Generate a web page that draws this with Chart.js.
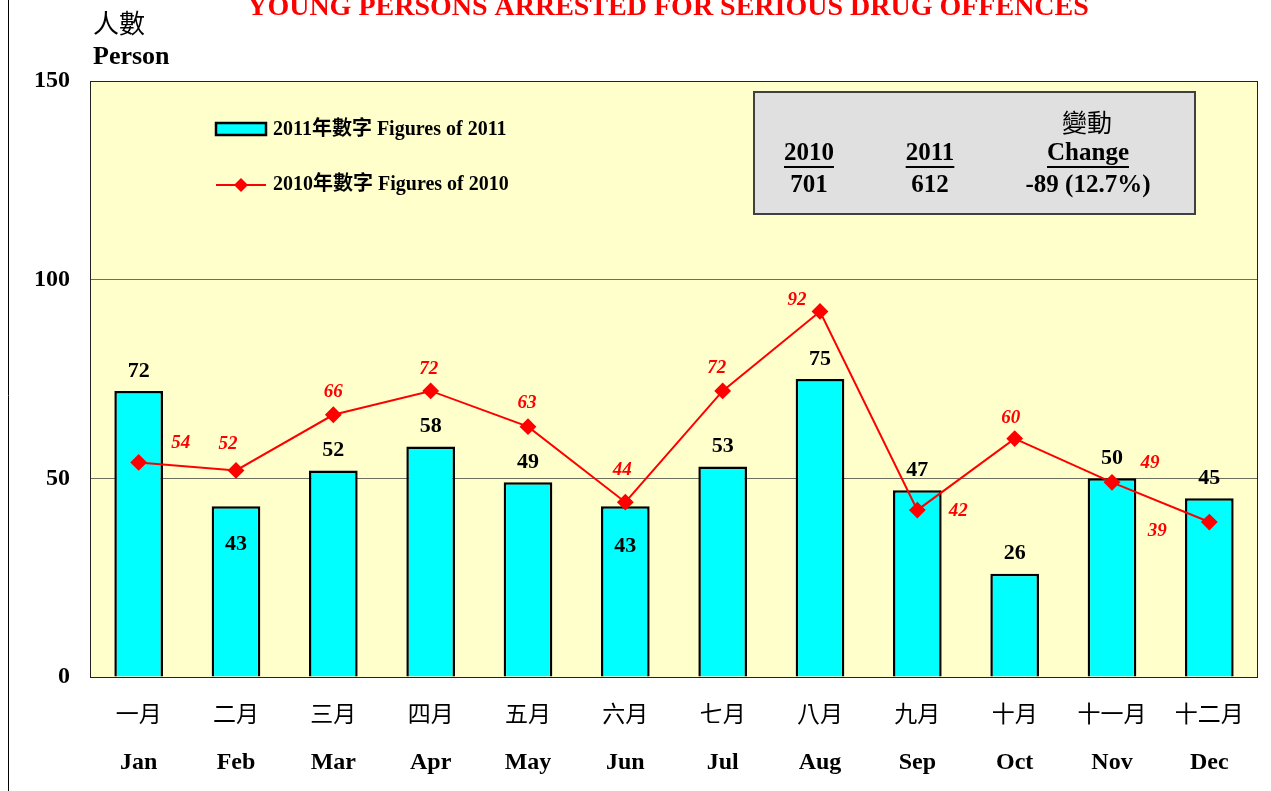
<!DOCTYPE html>
<html>
<head>
<meta charset="utf-8">
<script src="https://cdn.jsdelivr.net/npm/chart.js@4.4.1/dist/chart.umd.min.js"></script>
<style>
  html, body { margin: 0; padding: 0; background: #fff; }
  #wrap { width: 1271px; height: 791px; }
</style>
</head>
<body>
<div id="wrap"><canvas id="drugChart" width="1271" height="791"></canvas></div>
<script>
// データ
const monthsEn = ['Jan', 'Feb', 'Mar', 'Apr', 'May', 'Jun', 'Jul', 'Aug', 'Sep', 'Oct', 'Nov', 'Dec'];
const monthsZh = ['一月', '二月', '三月', '四月', '五月', '六月', '七月', '八月', '九月', '十月', '十一月', '十二月'];
const figures2011 = [72, 43, 52, 58, 49, 43, 53, 75, 47, 26, 50, 45];
const figures2010 = [54, 52, 66, 72, 63, 44, 72, 92, 42, 60, 49, 39];
const yTicks = [0, 50, 100, 150];
const summaryHeads = ['2010', '2011', 'Change'];
const summaryValues = ['701', '612', '-89 (12.7%)'];

const titleText = 'YOUNG PERSONS ARRESTED FOR SERIOUS DRUG OFFENCES';
const legend2011 = '2011年數字 Figures of 2011';
const legend2010 = '2010年數字 Figures of 2010';

// ラベル位置の調整 (バー上端からのずれ / 点からのずれ)
const barLabelDy = [-20, 38, -20, -20, -20, 40, -20, -20, -20, -20, -20, -20];
const lineLabelOffset = [
    [42, -19], [-8, -26], [0, -23], [-2, -22], [-1, -24], [-3, -32],
    [-6, -23], [-23, -11], [41, 1], [-4, -21], [38, -19], [-52, 9]
];

const SERIF = '"Liberation Serif", "Times New Roman", serif';
const CJK = '"Noto Sans CJK TC", "Noto Sans CJK SC", sans-serif';

function mixedFont(bold, size) {
    return (bold ? 'bold ' : '') + size + 'px ' + SERIF + ', ' + CJK;
}

// 背景と枠
const backgroundPlugin = {
    id: 'background',
    beforeDraw(chart) {
        const { ctx, chartArea: a } = chart;
        ctx.save();
        ctx.fillStyle = '#ffffff';
        ctx.fillRect(0, 0, chart.width, chart.height);
        ctx.fillStyle = '#FFFFCC';
        ctx.fillRect(a.left, a.top, a.right - a.left, a.bottom - a.top);
        ctx.strokeStyle = '#000';
        ctx.lineWidth = 1;
        ctx.beginPath();
        ctx.moveTo(8.5, 0);
        ctx.lineTo(8.5, chart.height);
        ctx.stroke();
        ctx.restore();
    },
    beforeDatasetsDraw(chart) {
        const { ctx, chartArea: a } = chart;
        ctx.save();
        ctx.strokeStyle = '#222';
        ctx.lineWidth = 1;
        ctx.strokeRect(a.left + 0.5, a.top + 0.5, a.right - a.left - 1, a.bottom - a.top);
        ctx.restore();
    }
};

// テキスト類
const annotationPlugin = {
    id: 'annotations',
    afterDraw(chart) {
        const { ctx } = chart;
        const xScale = chart.scales.x;
        ctx.save();

        // タイトル
        ctx.fillStyle = '#ff0000';
        ctx.font = 'bold 28px ' + SERIF;
        ctx.textAlign = 'center';
        ctx.textBaseline = 'alphabetic';
        ctx.fillText(titleText, 668, 15);

        // 軸タイトル
        ctx.fillStyle = '#000';
        ctx.textAlign = 'left';
        ctx.font = '26px ' + CJK;
        ctx.fillText('人數', 93, 33);
        ctx.font = 'bold 26px ' + SERIF;
        ctx.fillText('Person', 93, 64);

        // 月ラベル
        ctx.textAlign = 'center';
        ctx.textBaseline = 'middle';
        monthsEn.forEach((m, i) => {
            const x = xScale.getPixelForValue(i);
            ctx.font = '23px ' + CJK;
            ctx.fillText(monthsZh[i], x, 713);
            ctx.font = 'bold 24px ' + SERIF;
            ctx.fillText(m, x, 763);
        });

        // バーの数値
        const barMeta = chart.getDatasetMeta(1);
        ctx.font = 'bold 22px ' + SERIF;
        ctx.fillStyle = '#000';
        barMeta.data.forEach((bar, i) => {
            ctx.fillText(String(figures2011[i]), bar.x, bar.y + barLabelDy[i]);
        });

        // 折れ線の数値
        const lineMeta = chart.getDatasetMeta(0);
        ctx.font = 'italic bold 19px ' + SERIF;
        ctx.fillStyle = '#ff0000';
        lineMeta.data.forEach((pt, i) => {
            const [dx, dy] = lineLabelOffset[i];
            ctx.fillText(String(figures2010[i]), pt.x + dx, pt.y + dy);
        });

        // 凡例
        ctx.fillStyle = '#00FFFF';
        ctx.fillRect(216, 123, 50, 12);
        ctx.strokeStyle = '#000';
        ctx.lineWidth = 2.5;
        ctx.strokeRect(216, 123, 50, 12);
        ctx.strokeStyle = '#ff0000';
        ctx.lineWidth = 2;
        ctx.beginPath();
        ctx.moveTo(216, 185);
        ctx.lineTo(266, 185);
        ctx.stroke();
        ctx.fillStyle = '#ff0000';
        ctx.beginPath();
        ctx.moveTo(241, 178);
        ctx.lineTo(248, 185);
        ctx.lineTo(241, 192);
        ctx.lineTo(234, 185);
        ctx.closePath();
        ctx.fill();
        ctx.fillStyle = '#000';
        ctx.textAlign = 'left';
        ctx.font = mixedFont(true, 20);
        ctx.fillText(legend2011, 273, 130);
        ctx.fillText(legend2010, 273, 185);

        // 集計ボックス
        ctx.fillStyle = '#E0E0E0';
        ctx.fillRect(753, 91, 443, 124);
        ctx.strokeStyle = '#404040';
        ctx.lineWidth = 2;
        ctx.strokeRect(754, 92, 441, 122);
        const cols = [809, 930, 1088];
        ctx.fillStyle = '#000';
        ctx.textAlign = 'center';
        ctx.font = '25px ' + CJK;
        ctx.fillText('變動', 1087, 122);
        ctx.font = 'bold 25px ' + SERIF;
        ctx.lineWidth = 2;
        ctx.strokeStyle = '#000';
        summaryHeads.forEach((h, i) => {
            ctx.fillText(h, cols[i], 154);
            const w = ctx.measureText(h).width;
            ctx.beginPath();
            ctx.moveTo(cols[i] - w / 2, 167);
            ctx.lineTo(cols[i] + w / 2, 167);
            ctx.stroke();
        });
        summaryValues.forEach((v, i) => {
            ctx.fillText(v, cols[i], 186);
        });

        ctx.restore();
    }
};

const ctx = document.getElementById('drugChart').getContext('2d');
const drugChart = new Chart(ctx, {
    type: 'bar',
    data: {
        labels: monthsEn,
        datasets: [
            {
                type: 'line',
                label: legend2010,
                data: figures2010,
                borderColor: '#ff0000',
                backgroundColor: '#ff0000',
                borderWidth: 2,
                pointStyle: 'rectRot',
                pointRadius: 7,
                pointHoverRadius: 7,
                tension: 0,
                order: 0
            },
            {
                type: 'bar',
                label: legend2011,
                data: figures2011,
                backgroundColor: '#00FFFF',
                borderColor: '#000',
                borderWidth: 2.5,
                barPercentage: 0.5,
                categoryPercentage: 1,
                order: 1
            }
        ]
    },
    options: {
        responsive: false,
        animation: false,
        layout: { padding: { left: 0, top: 81, right: 13, bottom: 114 } },
        plugins: {
            legend: { display: false },
            tooltip: { enabled: false }
        },
        scales: {
            x: { display: false, offset: true },
            y: {
                min: 0,
                max: 150,
                afterFit(scale) { scale.width = 90; },
                afterBuildTicks(scale) { scale.ticks = yTicks.map(v => ({ value: v })); },
                ticks: {
                    color: '#000',
                    padding: 20,
                    font: { family: SERIF, size: 24, weight: 'bold' }
                },
                grid: {
                    drawTicks: false,
                    color: c => (c.tick.value === 50 || c.tick.value === 100) ? '#6e6e5e' : 'rgba(0,0,0,0)'
                },
                border: { display: false }
            }
        }
    },
    plugins: [backgroundPlugin, annotationPlugin]
});
</script>
</body>
</html>
